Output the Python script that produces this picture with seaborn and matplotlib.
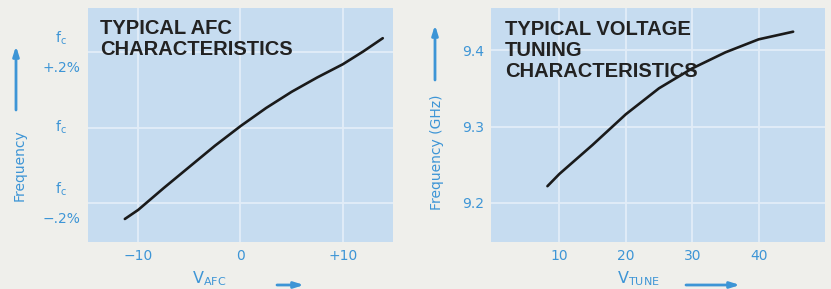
import matplotlib
matplotlib.use("Agg")
import matplotlib.pyplot as plt
import seaborn as sns

# ---- data ----
afc_v = [-11.3, -10, -7.5, -5, -2.5, 0, 2.5, 5, 7.5, 10, 12, 13.9]
afc_df = [-0.242, -0.218, -0.160, -0.104, -0.048, 0.004, 0.052, 0.095, 0.133, 0.168, 0.202, 0.237]
afc_xticks = [-10, 0, 10]
afc_xticklabels = ["\u221210", "0", "+10"]
afc_yticks = [-0.2, 0.0, 0.2]
afc_yticklabels = ["f$_{\\rm c}$\n\u2212.2%", "f$_{\\rm c}$", "f$_{\\rm c}$\n+.2%"]

tune_v = [8.2, 10, 15, 20, 25, 30, 35, 40, 45.2]
tune_f = [9.222, 9.238, 9.276, 9.316, 9.350, 9.376, 9.397, 9.414, 9.424]
tune_xticks = [10, 20, 30, 40]
tune_xticklabels = ["10", "20", "30", "40"]
tune_yticks = [9.2, 9.3, 9.4]
tune_yticklabels = ["9.2", "9.3", "9.4"]

# ---- style ----
BLUE = "#3d95d6"
FACE = "#c6dcf0"
BG = "#efefeb"
GRID = "#e2edf8"
sns.set_style("darkgrid", {"axes.facecolor": FACE, "grid.color": GRID,
                           "figure.facecolor": BG})
plt.rcParams["font.family"] = ["DejaVu Sans"]
plt.rcParams["mathtext.fontset"] = "dejavusans"

fig = plt.figure(figsize=(8.31, 2.89), dpi=100)
fig.patch.set_facecolor(BG)
ax1 = fig.add_axes([88 / 831, 1 - 242 / 289, 305 / 831, 234 / 289])
ax2 = fig.add_axes([491 / 831, 1 - 242 / 289, 334 / 831, 234 / 289])

sns.lineplot(x=afc_v, y=afc_df, ax=ax1, color="#1a1a1a", linewidth=1.9)
sns.lineplot(x=tune_v, y=tune_f, ax=ax2, color="#1a1a1a", linewidth=1.9)

ax1.set_xlim(-14.9, 14.9)
ax1.set_ylim(-0.303, 0.317)
ax2.set_xlim(-0.3, 50)
ax2.set_ylim(9.149, 9.455)

for ax, xt, xl, yt, yl in [(ax1, afc_xticks, afc_xticklabels, afc_yticks, afc_yticklabels),
                           (ax2, tune_xticks, tune_xticklabels, tune_yticks, tune_yticklabels)]:
    ax.set_xticks(xt)
    ax.set_xticklabels(xl)
    ax.set_yticks(yt)
    ax.set_yticklabels(yl, linespacing=2.25)
    ax.tick_params(axis="both", colors=BLUE, labelsize=10, length=0, pad=5)
    ax.grid(True, color=GRID, linewidth=1.3)
    for s in ax.spines.values():
        s.set_visible(False)
    ax.set_xlabel("")
    ax.set_ylabel("")

for lab in ax1.get_yticklabels():
    lab.set_horizontalalignment("center")
    lab.set_verticalalignment("center")
    lab.set_x(-0.065)

ax1.text(0.039, 0.955, "TYPICAL AFC\nCHARACTERISTICS", transform=ax1.transAxes,
         ha="left", va="top", fontsize=14.5, fontweight="bold",
         family=["Liberation Sans"], color="#222222", linespacing=1.15)
ax2.text(0.042, 0.95, "TYPICAL VOLTAGE\nTUNING\nCHARACTERISTICS", transform=ax2.transAxes,
         ha="left", va="top", fontsize=14.5, fontweight="bold",
         family=["Liberation Sans"], color="#222222", linespacing=1.15)

# axis labels with arrows
fig.text(20 / 831, 1 - 165 / 289, "Frequency", rotation=90, ha="center", va="center",
         color=BLUE, fontsize=10)
fig.text(437 / 831, 1 - 152 / 289, "Frequency (GHz)", rotation=90, ha="center", va="center",
         color=BLUE, fontsize=10)
fig.text(192 / 831, 1 - 279 / 289, "V$_{\\rm AFC}$", ha="left", va="center",
         color=BLUE, fontsize=11.5)
fig.text(617 / 831, 1 - 279 / 289, "V$_{\\rm TUNE}$", ha="left", va="center",
         color=BLUE, fontsize=11.5)

ap = dict(arrowstyle="-|>,head_length=0.7,head_width=0.22", color=BLUE, lw=2.0,
          shrinkA=0, shrinkB=0, mutation_scale=8)
for (x0, y0), (x1, y1) in [((16, 110), (16, 46)), ((435, 80), (435, 25)),
                           ((277, 285), (304, 285)), ((686, 285), (740, 285))]:
    fig.add_artist(matplotlib.patches.FancyArrowPatch(
        (x0 / 831, 1 - y0 / 289), (x1 / 831, 1 - y1 / 289),
        transform=fig.transFigure, **ap))

fig.savefig("out.png", dpi=100, facecolor=BG)
